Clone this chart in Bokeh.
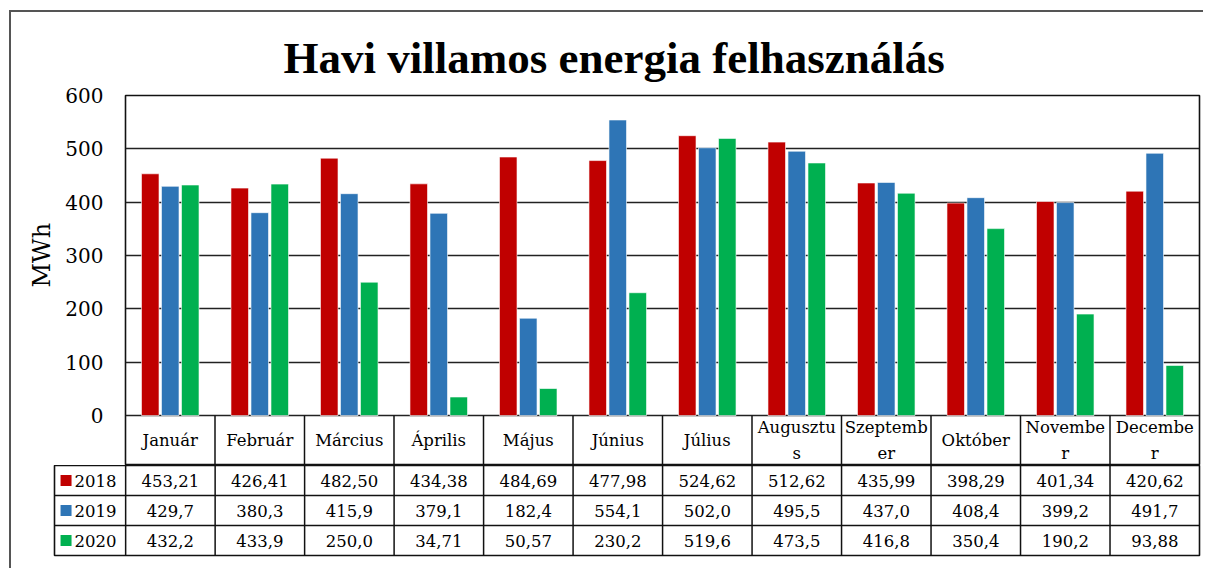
from bokeh.plotting import figure
from bokeh.models import Range1d, FixedTicker, Title
from bokeh.layouts import column
from bokeh.embed import file_html
from bokeh.resources import INLINE
from bokeh.core.properties import value

# ---------------- data ----------------
month_labels = ["Január", "Február", "Március", "Április", "Május", "Június",
                "Július", "Augusztu\ns", "Szeptemb\ner", "Október", "Novembe\nr", "Decembe\nr"]
years = ["2018", "2019", "2020"]
vals_2018 = ["453,21", "426,41", "482,50", "434,38", "484,69", "477,98",
             "524,62", "512,62", "435,99", "398,29", "401,34", "420,62"]
vals_2019 = ["429,7", "380,3", "415,9", "379,1", "182,4", "554,1",
             "502,0", "495,5", "437,0", "408,4", "399,2", "491,7"]
vals_2020 = ["432,2", "433,9", "250,0", "34,71", "50,57", "230,2",
             "519,6", "473,5", "416,8", "350,4", "190,2", "93,88"]
colors = ["#C00000", "#2E75B6", "#00B050"]
y_ticks = [0, 100, 200, 300, 400, 500, 600]
title_text = "Havi villamos energia felhasználás"
y_label = "MWh"

series = [vals_2018, vals_2019, vals_2020]
n = len(month_labels)
SERIF = "DejaVu Serif"
CAT_ROW = 93.75  # height of category-label row in data units
BORDER = "2px solid #555555"

# ---------------- chart (with category row) ----------------
p = figure(width=1192, height=453, x_range=Range1d(0, n), y_range=Range1d(-CAT_ROW, 600),
           x_axis_location=None, output_backend="svg", toolbar_location=None,
           min_border_left=114, min_border_right=4, min_border_top=83, min_border_bottom=0,
           title=title_text)
p.title.text_font = "Liberation Serif"
p.title.text_font_style = "bold"
p.title.text_font_size = "45px"
p.title.text_color = "black"
p.title.align = "left"
p.title.offset = 158
p.title.standoff = 26

p.xgrid.visible = False
p.ygrid.ticker = FixedTicker(ticks=y_ticks)
p.ygrid.grid_line_color = "#222222"
p.ygrid.grid_line_width = 1.4
p.outline_line_color = "#111111"
p.outline_line_width = 1.6
p.outline_line_alpha = 1

ax = p.yaxis[0]
ax.ticker = FixedTicker(ticks=y_ticks)
ax.axis_line_color = None
ax.major_tick_line_color = None
ax.minor_tick_line_color = None
ax.major_tick_out = 0
ax.major_tick_in = 0
ax.major_label_standoff = 22
ax.major_label_text_font = SERIF
ax.major_label_text_font_size = "20px"
ax.major_label_text_color = "black"

p.add_layout(Title(text=y_label, align="left", offset=178, text_font=SERIF,
                   text_font_size="24px", text_font_style="normal", text_color="black",
                   standoff=14), "left")

offsets = [-0.2235, 0.0, 0.2235]
for vals, col, off in zip(series, colors, offsets):
    nums = [float(v.replace(",", ".")) for v in vals]
    p.vbar(x=[i + 0.5 + off for i in range(n)], top=nums, bottom=0, width=0.196,
           fill_color=col, line_color="white", line_alpha=0.6, line_width=1)

p.segment(x0=list(range(1, n)), y0=-CAT_ROW, x1=list(range(1, n)), y1=0,
          line_color="#111111", line_width=1.5)
p.text(x=[i + 0.5 for i in range(n)], y=-CAT_ROW / 2, text=month_labels,
       text_align="center", text_baseline="middle", text_font=value(SERIF),
       text_font_size="16.5px", text_color="black", text_line_height=1.35)

# ---------------- data table ----------------
LEG = 0.795
t = figure(width=1192, height=103, x_range=Range1d(-LEG, n), y_range=Range1d(0, 90),
           x_axis_location=None, y_axis_location=None, output_backend="svg",
           toolbar_location=None, min_border_left=43, min_border_right=4,
           min_border_top=0, min_border_bottom=13)
t.grid.visible = False
t.outline_line_color = "#111111"
t.outline_line_width = 1.6
t.outline_line_alpha = 1

row_y = [75, 45, 15]
t.segment(x0=list(range(0, n)), y0=0, x1=list(range(0, n)), y1=90,
          line_color="#111111", line_width=1.5)
t.segment(x0=-LEG, y0=[30, 60], x1=n, y1=[30, 60], line_color="#111111", line_width=1.5)
t.scatter(x=-LEG + 0.129, y=row_y, marker="square", size=11, fill_color=colors, line_color=None)
t.text(x=-LEG + 0.224, y=row_y, text=years, text_align="left", text_baseline="middle",
       text_font=value(SERIF), text_font_size="16.5px", text_color="black")
for vals, yy in zip(series, row_y):
    t.text(x=[i + 0.5 for i in range(n)], y=yy, text=vals, text_align="center",
           text_baseline="middle", text_font=value(SERIF), text_font_size="16.5px",
           text_color="black")

top_block = column(p, styles={"border-left": BORDER, "border-top": BORDER,
                              "margin-left": "9px", "margin-top": "10px"})
bottom_block = column(t, styles={"border-left": BORDER, "margin-left": "9px"})

open("out.html", "w").write(file_html([top_block, bottom_block], INLINE))
